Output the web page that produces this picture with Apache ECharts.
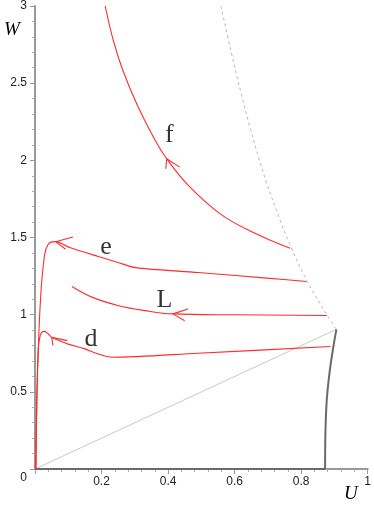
<!DOCTYPE html>
<html><head><meta charset="utf-8">
<script src="https://cdn.jsdelivr.net/npm/echarts@6/dist/echarts.min.js"></script>
<style>html,body{margin:0;padding:0;background:#fff}#c{width:374px;height:517px}</style>
</head><body><div id="c"></div>
<script>
// Tick labels
var xTicks = [0, 0.2, 0.4, 0.6, 0.8, 1];
var yTicks = [0, 0.5, 1, 1.5, 2, 2.5, 3];
// Trajectories (U, W)
var curveD = [[0.003,0],[0.006,0.5],[0.01,0.78],[0.014,0.85],[0.02,0.885],[0.028,0.892],[0.04,0.875],[0.05,0.853],[0.075,0.83],[0.104,0.806],[0.148,0.78],[0.19,0.745],[0.232,0.724],[0.49,0.75],[0.888,0.794]];
var curveE = [[0.002,0],[0.006,0.5],[0.012,0.9],[0.018,1.15],[0.023,1.28],[0.03,1.4],[0.038,1.45],[0.048,1.47],[0.062,1.473],[0.104,1.435],[0.193,1.375],[0.252,1.337],[0.302,1.305],[0.49,1.273],[0.697,1.237],[0.816,1.215]];
var curveL = [[0.111,1.183],[0.173,1.112],[0.252,1.058],[0.331,1.026],[0.415,1.005],[0.6,0.999],[0.877,0.995]];
var curveF = [[0.211,3.0],[0.235,2.78],[0.262,2.595],[0.307,2.36],[0.361,2.13],[0.396,2.01],[0.46,1.84],[0.559,1.65],[0.658,1.531],[0.767,1.43]];
// Boundary curves
var dottedBoundary = [[0.559,3.0],[0.59,2.7],[0.62,2.43],[0.648,2.2],[0.672,2.02],[0.697,1.85],[0.732,1.64],[0.767,1.45],[0.816,1.225],[0.877,1.0],[0.906,0.905]];
var diagonal = [[0,0],[0.906,0.905]];
var darkBoundary = [[0.906,0.905],[0.895,0.768],[0.885,0.617],[0.877,0.445],[0.873,0.232],[0.872,0]];
var darkBase = [[0.872,0],[0,0]];
// Arrowheads: [arm1, tip, arm2]
var arrowF = [[0.435,1.956],[0.396,2.01],[0.393,1.945]];
var arrowE = [[0.114,1.503],[0.062,1.473],[0.092,1.424]];
var arrowL = [[0.46,1.037],[0.415,1.005],[0.45,0.961]];
var arrowD = [[0.097,0.832],[0.05,0.853],[0.054,0.8]];
// Curve labels
var curveLabels = [['f',0.4036,2.161],['e',0.2136,1.439],['L',0.389,1.097],['d',0.168,0.839]];

var chart = echarts.init(document.getElementById('c'), null, {renderer:'canvas'});
function line(data, color, width, type, smooth){
  return {type:'line', data:data, symbol:'none', silent:true, animation:false, z:3,
    smooth:smooth||false,
    lineStyle:{color:color, width:width, type:type||'solid'}};
}
var red = '#ff2a2a';
var series = [
  line(diagonal, '#c8c8c8', 1),
  line(dottedBoundary, '#b8b8b8', 1, [3,3], 0.4),
  line(darkBoundary, '#6a6a6a', 2, 'solid', 0.4),
  line(darkBase, '#6a6a6a', 2),
  line(curveD, red, 1.1, 'solid', 0.3), line(curveE, red, 1.1, 'solid', 0.3),
  line(curveL, red, 1.1, 'solid', 0.4), line(curveF, red, 1.1, 'solid', 0.4),
  line(arrowF, red, 1.1), line(arrowE, red, 1.1), line(arrowL, red, 1.1), line(arrowD, red, 1.1),
  {type:'scatter', symbolSize:0, silent:true, animation:false,
   data: curveLabels.map(function(a){return {name:a[0], value:[a[1],a[2]]};}),
   label:{show:true, position:'inside', formatter:'{b}', fontFamily:'Liberation Serif', fontSize:26, color:'#000'}}
];
chart.setOption({
  animation:false,
  grid:{left:35, right:2, top:4, bottom:48, containLabel:false},
  xAxis:{type:'value', min:xTicks[0], max:xTicks[xTicks.length-1], interval:0.2,
    axisLine:{lineStyle:{color:'#999', width:2}},
    axisTick:{length:5, lineStyle:{color:'#999'}},
    minorTick:{show:true, splitNumber:5, length:3, lineStyle:{color:'#aaa'}},
    splitLine:{show:false},
    axisLabel:{margin:7, fontFamily:'Liberation Sans', fontSize:12, color:'#222',
      formatter:function(v){ return v===0 ? '' : String(v); }}
  },
  yAxis:{type:'value', min:yTicks[0], max:yTicks[yTicks.length-1], interval:0.5,
    axisLine:{show:true, lineStyle:{color:'#999', width:2}},
    axisTick:{show:true, length:5, lineStyle:{color:'#999'}},
    minorTick:{show:true, splitNumber:5, length:3, lineStyle:{color:'#aaa'}},
    splitLine:{show:false},
    axisLabel:{margin:8, fontFamily:'Liberation Sans', fontSize:12, color:'#222',
      formatter:function(v){ return v===0 ? '{o|0}' : String(v); },
      rich:{o:{padding:[18,0,0,0], fontFamily:'Liberation Sans', fontSize:12, color:'#222'}}}
  },
  graphic:[
    {type:'text', left:4, top:20, style:{text:'W', font:'italic 19px "Liberation Serif"', fill:'#000'}},
    {type:'text', left:344, top:484, style:{text:'U', font:'italic 19px "Liberation Serif"', fill:'#000'}}
  ],
  series:series
});
</script></body></html>
